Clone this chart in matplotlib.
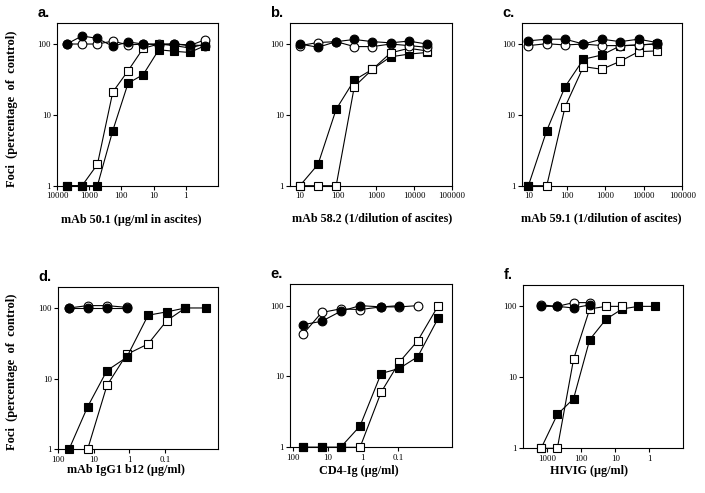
import numpy as np
import matplotlib
matplotlib.use('Agg')
import matplotlib.pyplot as plt

nan = np.nan

# panel a: mAb 50.1 (ug/ml in ascites)
xa = [5000, 1667, 556, 185, 62, 21, 6.9, 2.3, 0.76, 0.25]
a_filled_sq = [1, 1, 1, 6, 28, 37, 83, 79, 76, 95]
a_open_sq = [1, 1, 2, 21, 42, 87, 100, 95, 88, 100]
a_filled_c = [100, 130, 120, 93, 107, 100, 98, 100, 97, 95]
a_open_c = [100, 100, 100, 110, 97, 100, 100, 100, 95, 115]

# panel b: mAb 58.2 (1/dilution)
xb = [10, 30, 90, 270, 810, 2430, 7290, 21870]
b_filled_sq = [1, 2, 12, 31, 44, 66, 72, 76]
b_open_sq = [1, 1, 1, 25, 44, 75, 87, 80]
b_filled_c = [100, 90, 108, 116, 108, 104, 110, 100]
b_open_c = [95, 105, 108, 92, 92, 100, 95, 90]

# panel c: mAb 59.1 (1/dilution)
xc = [10, 30, 90, 270, 810, 2430, 7290, 21870]
c_filled_sq = [1, 6, 25, 61, 70, 94, 97, 101]
c_open_sq = [1, 1, 13, 48, 44, 57, 78, 80]
c_filled_c = [111, 117, 117, 100, 117, 108, 117, 105]
c_open_c = [95, 101, 97, 100, 95, 95, 97, 100]

# panel d: IgG1 b12 (ug/ml)
xd = [50, 15, 4.3, 1.2, 0.3, 0.09, 0.027, 0.007]
d_filled_sq = [1, 4, 13, 20, 79, 88, 100, 100]
d_open_sq = [nan, 1, 8, 22, 31, 66, 100, nan]
d_filled_c = [100, 100, 100, 100, nan, nan, nan, nan]
d_open_c = [100, 108, 108, 102, nan, nan, nan, nan]

# panel e: CD4-Ig (ug/ml)
xe = [50, 15, 4.3, 1.2, 0.3, 0.09, 0.027, 0.007]
e_filled_sq = [1, 1, 1, 2, 11, 13, 19, 67]
e_open_sq = [1, 1, 1, 1, 6, 16, 32, 100]
e_filled_c = [54, 60, 83, 100, 96, 100, nan, nan]
e_open_c = [40, 80, 90, 88, 96, 96, 100, nan]

# panel f: HIVIG (ug/ml)
xf = [1500, 500, 167, 56, 18.5, 6.2, 2.1, 0.69]
f_filled_sq = [1, 3, 5, 34, 66, 92, 100, 100]
f_open_sq = [1, 1, 18, 92, 100, 100, nan, nan]
f_filled_c = [100, 100, 95, 105, nan, nan, nan, nan]
f_open_c = [105, 100, 113, 113, nan, nan, nan, nan]

panels = [
    dict(letter='a.', x=xa, fs=a_filled_sq, os=a_open_sq, fc=a_filled_c, oc=a_open_c,
         xlim=(10000, 0.1), ticks=[10000, 1000, 100, 10, 1],
         ticklabels=['10000', '1000', '100', '10', '1'],
         xlabel='mAb 50.1 (\u00b5g/ml in ascites)', lab=(0.46, -0.21),
         pos=[57, 22.7, 218, 185.7], open_top=False),
    dict(letter='b.', x=xb, fs=b_filled_sq, os=b_open_sq, fc=b_filled_c, oc=b_open_c,
         xlim=(5.5, 100000), ticks=[10, 100, 1000, 10000, 100000],
         ticklabels=['10', '100', '1000', '10000', '100000'],
         xlabel='mAb 58.2 (1/dilution of ascites)', lab=(0.504, -0.2),
         pos=[290, 22.7, 452, 185.7], open_top=True),
    dict(letter='c.', x=xc, fs=c_filled_sq, os=c_open_sq, fc=c_filled_c, oc=c_open_c,
         xlim=(6.7, 100000), ticks=[10, 100, 1000, 10000, 100000],
         ticklabels=['10', '100', '1000', '10000', '100000'],
         xlabel='mAb 59.1 (1/dilution of ascites)', lab=(0.494, -0.2),
         pos=[521.7, 22.7, 682.3, 185.7], open_top=False),
    dict(letter='d.', x=xd, fs=d_filled_sq, os=d_open_sq, fc=d_filled_c, oc=d_open_c,
         xlim=(100, 0.0032), ticks=[100, 10, 1, 0.1],
         ticklabels=['100', '10', '1', '0.1'],
         xlabel='mAb IgG1 b12 (\u00b5g/ml)', lab=(0.42, -0.127),
         pos=[58.3, 286.7, 218.3, 449.3], open_top=False),
    dict(letter='e.', x=xe, fs=e_filled_sq, os=e_open_sq, fc=e_filled_c, oc=e_open_c,
         xlim=(120, 0.0029), ticks=[100, 10, 1, 0.1],
         ticklabels=['100', '10', '1', '0.1'],
         xlabel='CD4-Ig (\u00b5g/ml)', lab=(0.427, -0.145),
         pos=[290, 284.3, 451.7, 447.3], open_top=False),
    dict(letter='f.', x=xf, fs=f_filled_sq, os=f_open_sq, fc=f_filled_c, oc=f_open_c,
         xlim=(5000, 0.1), ticks=[1000, 100, 10, 1],
         ticklabels=['1000', '100', '10', '1'],
         xlabel='HIVIG (\u00b5g/ml)', lab=(0.41, -0.137),
         pos=[523.3, 285, 683.3, 448.3], open_top=True),
]

W, H = 705, 493
fig = plt.figure(figsize=(W / 100, H / 100), dpi=100)
serif = 'Liberation Serif'
sans = 'Liberation Sans'
ms = 6.3

for p in panels:
    l, t, r, b = p['pos']
    ax = fig.add_axes([l / W, 1 - b / H, (r - l) / W, (b - t) / H])
    ax.set_xscale('log')
    ax.set_yscale('log')
    ax.set_xlim(*p['xlim'])
    ax.set_ylim(1, 200)

    x = np.array(p['x'], dtype=float)
    style = dict(color='black', lw=0.8, markersize=ms, markeredgewidth=0.8,
                 markeredgecolor='black', clip_on=False)
    sq_open_z = 4 if p['open_top'] else 3
    sq_fill_z = 3 if p['open_top'] else 4
    ax.plot(x, p['os'], marker='s', markerfacecolor='white', zorder=sq_open_z, **style)
    ax.plot(x, p['fs'], marker='s', markerfacecolor='black', zorder=sq_fill_z, **style)
    ax.plot(x, p['oc'], marker='o', markerfacecolor='white', zorder=5, **style)
    ax.plot(x, p['fc'], marker='o', markerfacecolor='black', zorder=6, **style)

    ax.set_xticks(p['ticks'])
    ax.set_xticklabels(p['ticklabels'])
    ax.set_yticks([1, 10, 100])
    ax.set_yticklabels(['1', '10', '100'])
    ax.minorticks_off()
    ax.tick_params(direction='out', length=3, width=0.8, pad=1.5, labelsize=6.4)
    for lab in ax.get_xticklabels() + ax.get_yticklabels():
        lab.set_family(serif)
    for s in ax.spines.values():
        s.set_linewidth(0.8)

    ax.text(p['lab'][0], p['lab'][1], p['xlabel'], transform=ax.transAxes,
            ha='center', va='center', family=serif, fontweight='bold', fontsize=8.7)

    fig.text((l - 19.5) / W, 1 - (t - 6) / H, p['letter'], family=sans,
             fontweight='bold', fontsize=10.5, ha='left', va='baseline')

for yc in (109, 371.7):
    fig.text(12 / W, 1 - yc / H, 'Foci  (percentage  of  control)', rotation=90,
             ha='center', va='center', family=serif, fontweight='bold', fontsize=9)

fig.savefig('out.png', dpi=100)
